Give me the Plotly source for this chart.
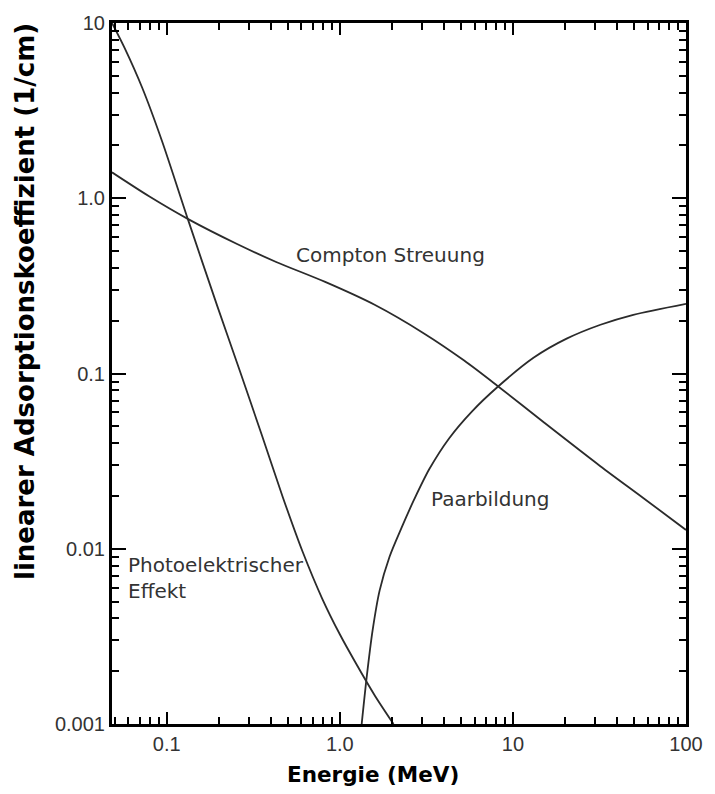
import plotly.graph_objects as go

# Energy (MeV) and linear attenuation coefficient (1/cm) for each process
photo_e = [0.0483, 0.0571, 0.0722, 0.0937, 0.1331, 0.1967, 0.2653, 0.3532,
           0.4702, 0.61, 0.791, 1.0, 1.22, 1.589, 2.043]
photo_mu = [10.0, 7.21, 4.27, 2.136, 0.75, 0.240, 0.1026, 0.045,
            0.0195, 0.00961, 0.0052, 0.00325, 0.00228, 0.00146, 0.001]

compton_e = [0.0483, 0.0791, 0.1331, 0.255, 0.429, 0.823, 1.589, 3.08,
             5.23, 8.09, 15.07, 32.0, 56.6, 100.0]
compton_mu = [1.405, 1.026, 0.760, 0.548, 0.433, 0.333, 0.2466, 0.1688,
              0.1186, 0.0855, 0.0527, 0.0296, 0.0195, 0.0128]

pair_e = [1.338, 1.430, 1.547, 1.698, 1.938, 2.272, 2.698, 3.290, 4.287,
          5.81, 8.09, 13.21, 20.43, 32.04, 49.6, 100.0]
pair_mu = [0.001, 0.00185, 0.00342, 0.00577, 0.00901, 0.01316, 0.01923,
           0.02849, 0.04275, 0.06084, 0.0832, 0.1233, 0.1581, 0.1898,
           0.2163, 0.25]

x_tickvals = [0.1, 1, 10, 100]
x_ticktext = ["0.1", "1.0", "10", "100"]
y_tickvals = [0.001, 0.01, 0.1, 1, 10]
y_ticktext = ["0.001", "0.01", "0.1", "1.0", "10"]

LINE = dict(color="#2b2b2b", width=1.8, shape="spline", smoothing=0.8)

fig = go.Figure()
for xs, ys in [(photo_e, photo_mu), (compton_e, compton_mu), (pair_e, pair_mu)]:
    fig.add_trace(go.Scatter(x=xs, y=ys, mode="lines", line=LINE,
                             showlegend=False, hoverinfo="skip"))

label_font = dict(family="DejaVu Sans", size=20, color="#333333")
fig.add_annotation(x=-0.263, y=-0.324, text="Compton Streuung",
                   showarrow=False, xanchor="left", yanchor="middle", font=label_font)
fig.add_annotation(x=0.517, y=-1.716, text="Paarbildung",
                   showarrow=False, xanchor="left", yanchor="middle", font=label_font)
fig.add_annotation(x=-1.237, y=-2.165, text="Photoelektrischer<br>Effekt",
                   showarrow=False, xanchor="left", yanchor="middle", align="left",
                   font=label_font)

# Axis titles
fig.add_annotation(xref="paper", yref="paper", x=0.454, y=-0.0724,
                   text="<b>Energie (MeV)</b>", showarrow=False,
                   xanchor="center", yanchor="middle",
                   font=dict(family="DejaVu Sans", size=21.5, color="black"))
fig.add_annotation(xref="paper", yref="paper", x=-0.1515, y=0.602,
                   text="<b>linearer Adsorptionskoeffizient (1/cm)</b>",
                   showarrow=False, textangle=-90,
                   xanchor="center", yanchor="middle",
                   font=dict(family="DejaVu Sans", size=26, color="black"))

axis_common = dict(
    type="log",
    showline=True, linecolor="black", linewidth=3, mirror="ticks",
    ticks="inside", tickcolor="black", tickwidth=2,
    showgrid=False, zeroline=False,
    tickmode="array",
    tickfont=dict(family="Liberation Sans", size=20, color="#333333"),
    minor=dict(dtick="D1", ticks="inside", ticklen=7, tickwidth=2,
               tickcolor="black", showgrid=False),
)

fig.update_xaxes(**axis_common, range=[-1.316, 2], tickvals=x_tickvals,
                 ticktext=x_ticktext, ticklen=12)
fig.update_yaxes(**axis_common, range=[-3, 1], tickvals=y_tickvals,
                 ticktext=y_ticktext, ticklen=14)

fig.update_layout(
    width=715, height=794,
    margin=dict(l=112, r=22, t=20, b=70),
    paper_bgcolor="white", plot_bgcolor="white",
)

fig.write_html("out.html")
